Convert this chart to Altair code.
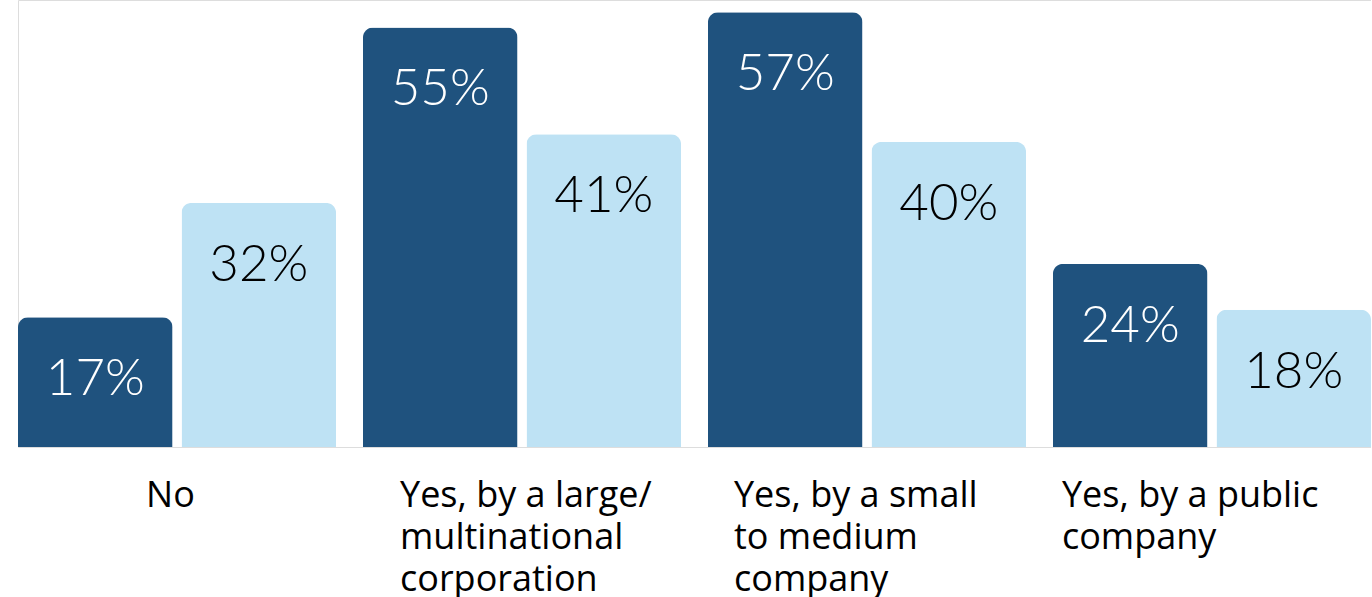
import altair as alt
import pandas as pd

categories = [
    "No",
    "Yes, by a large/\nmultinational\ncorporation",
    "Yes, by a small\nto medium\ncompany",
    "Yes, by a public\ncompany",
]
series = ["Series 1", "Series 2"]
values_s1 = [17, 55, 57, 24]
values_s2 = [32, 41, 40, 18]

rows = []
for c, a, b in zip(categories, values_s1, values_s2):
    rows.append({"category": c, "series": series[0], "value": a})
    rows.append({"category": c, "series": series[1], "value": b})
df = pd.DataFrame(rows)

DARK = "#1F527E"
LIGHT = "#BEE2F4"

x_enc = alt.X(
    "category:N",
    sort=categories,
    scale=alt.Scale(paddingInner=0.078, paddingOuter=0),
    axis=alt.Axis(
        title=None,
        domain=False,
        ticks=False,
        labelAngle=0,
        labelAlign="left",
        labelBaseline="top",
        labelPadding=31,
        labelFont="Open Sans",
        labelFontSize=36,
        labelColor="#000000",
        labelLineHeight=42,
        labelLimit=500,
        labelExpr="split(datum.label, '\\n')",
        labelOffset={
            "condition": [
                {"test": "datum.value == 'No'", "value": -31},
                {"test": "indexof(datum.value, 'large') >= 0", "value": -122},
                {"test": "indexof(datum.value, 'small') >= 0", "value": -133},
            ],
            "value": -150,
        },
    ),
)
xoff = alt.XOffset("series:N", sort=series, scale=alt.Scale(paddingInner=0.055, paddingOuter=0))
y_enc = alt.Y("value:Q", scale=alt.Scale(domain=[0, 58.6], nice=False, zero=True), axis=None)

bars = alt.Chart(df).mark_bar(cornerRadiusTopLeft=10, cornerRadiusTopRight=10).encode(
    x=x_enc,
    xOffset=xoff,
    y=y_enc,
    color=alt.Color("series:N", sort=series, scale=alt.Scale(domain=series, range=[DARK, LIGHT]), legend=None),
)

labels = alt.Chart(df).transform_calculate(pct="datum.value + '%'").mark_text(
    dy=63, baseline="middle", align="center", font="Lato", fontSize=51, fontWeight=300
).encode(
    x=alt.X("category:N", sort=categories),
    xOffset=alt.XOffset("series:N", sort=series),
    y=alt.Y("value:Q"),
    text="pct:N",
    fill=alt.condition(alt.datum.series == series[0], alt.value("#FFFFFF"), alt.value("#000000")),
)

chart = (
    alt.layer(bars, labels)
    .properties(
        width=1353,
        height=447,
        padding={"left": 18, "top": 0, "right": 0, "bottom": 150},
        autosize=alt.AutoSizeParams(type="none"),
    )
    .configure_view(stroke=None)
    .configure(background="#FFFFFF")
)

chart.save("out.html", embed_options={"renderer": "svg", "actions": False})
